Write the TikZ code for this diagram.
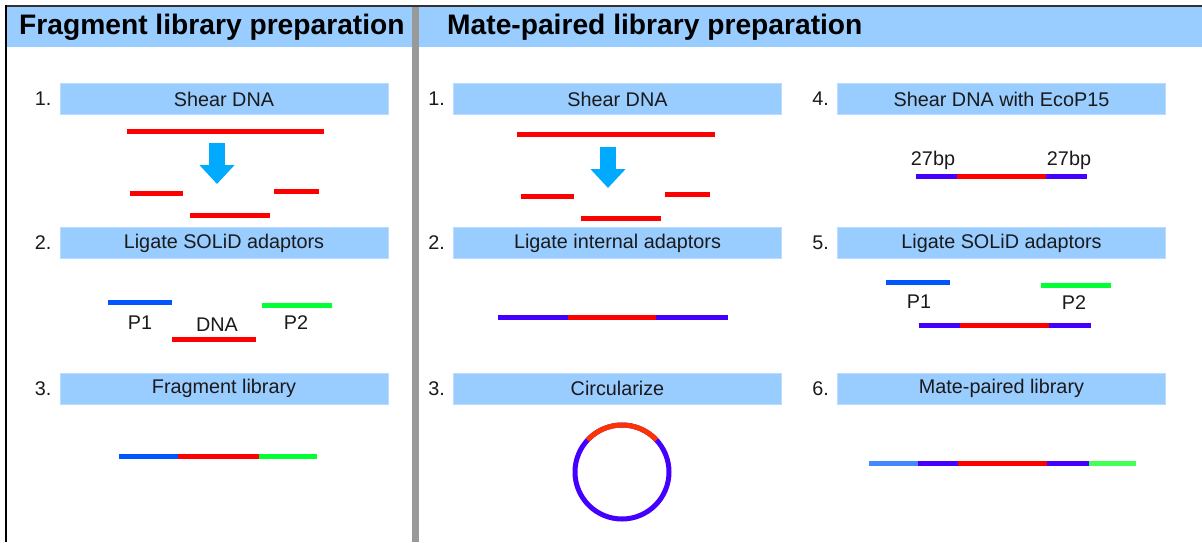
\documentclass[tikz,border=0pt]{standalone}
\usepackage{fontspec}
\setmainfont{Liberation Sans}
\usetikzlibrary{arrows.meta,positioning}

\definecolor{boxblue}{RGB}{153,204,255}
\definecolor{boxedge}{RGB}{185,220,255}
\definecolor{dnared}{RGB}{255,0,0}
\definecolor{ringred}{RGB}{255,51,0}
\definecolor{linkviolet}{RGB}{68,0,255}
\definecolor{ponablue}{RGB}{0,85,255}
\definecolor{ptwogreen}{RGB}{0,255,51}
\definecolor{fadeblue}{RGB}{68,136,255}
\definecolor{fadegreen}{RGB}{68,255,85}
\definecolor{cutblue}{RGB}{0,170,255}
\definecolor{divgrey}{RGB}{153,153,153}
\definecolor{inkblack}{RGB}{26,26,26}

\begin{document}
\begin{tikzpicture}[x=1pt,y=-1pt]
\tikzset{
  headtext/.style={anchor=west,inner sep=0pt,text=black,font=\fontsize{28.2}{32}\selectfont\bfseries},
  stepbox/.style={fill=boxblue,draw=boxedge,line width=0.8pt,minimum width=328pt,minimum height=31pt,inner sep=0pt,text=inkblack,font=\fontsize{19.8}{22}\selectfont},
  stepnum/.style={inner sep=0pt,text=inkblack,font=\fontsize{19.8}{22}\selectfont},
  strandlabel/.style={inner sep=0pt,text=inkblack,font=\fontsize{19.8}{22}\selectfont},
  strand/.style={line width=5pt,line cap=butt},
  cutarrow/.style={cutblue,line width=16pt,-{Triangle[length=19pt,width=34pt]}}
}
\useasboundingbox (0,0) rectangle (1202,542);
% frame and header band
\fill[boxblue] (7,7) rectangle (1202,47);
\draw[line width=2pt,black!80] (5,6) -- (1202,6);
\draw[line width=2pt,black] (6,5) -- (6,542);
\fill[divgrey] (412,7) rectangle (419,542);
\node[headtext] (fraghead) at (19,27) {Fragment library preparation};
\node[headtext] (matehead) at (447,27) {Mate-paired library preparation};

% fragment library steps
\node[stepbox] (frag1) at (224,99) {Shear DNA};
\node[stepbox] (frag2) at (224,243) {Ligate SOLiD adaptors};
\node[stepbox] (frag3) at (224,388.5) {Fragment library};
\node[stepnum,left=8pt of frag1] (fragnum1) {1.};
\node[stepnum,left=8pt of frag2] (fragnum2) {2.};
\node[stepnum,left=8pt of frag3] (fragnum3) {3.};

\draw[strand,dnared] (127,131) -- (324,131);
\coordinate (fragcuttop) at (217,143);
\coordinate (fragcuttip) at (217,184);
\draw[cutarrow] (fragcuttop) -- (fragcuttip);
\draw[strand,dnared] (130,193) -- (183,193);
\draw[strand,dnared] (274,191) -- (319,191);
\draw[strand,dnared] (190,215) -- (270,215);

\draw[strand,ponablue] (108,302) -- (172,302);
\draw[strand,ptwogreen] (262,305) -- (332,305);
\draw[strand,dnared] (172,339) -- (256,339);
\node[strandlabel] (fragpone) at (140,323) {P1};
\node[strandlabel] (fragdna) at (217,325) {DNA};
\node[strandlabel] (fragptwo) at (296,323) {P2};

\draw[strand,ponablue] (119,456) -- (178,456);
\draw[strand,dnared] (178,456) -- (259,456);
\draw[strand,ptwogreen] (259,456) -- (317,456);

% mate-paired library steps, first column
\node[stepbox] (mate1) at (617.5,99) {Shear DNA};
\node[stepbox] (mate2) at (617.5,243) {Ligate internal adaptors};
\node[stepbox] (mate3) at (617.5,388.5) {Circularize};
\node[stepnum,left=8pt of mate1] (matenum1) {1.};
\node[stepnum,left=8pt of mate2] (matenum2) {2.};
\node[stepnum,left=8pt of mate3] (matenum3) {3.};

\draw[strand,dnared] (517,134) -- (715,134);
\coordinate (matecuttop) at (608,147);
\coordinate (matecuttip) at (608,188);
\draw[cutarrow] (matecuttop) -- (matecuttip);
\draw[strand,dnared] (521,196) -- (574,196);
\draw[strand,dnared] (665,194) -- (710,194);
\draw[strand,dnared] (581,218) -- (661,218);

\draw[strand,linkviolet] (498,317) -- (568,317);
\draw[strand,dnared] (568,317) -- (656,317);
\draw[strand,linkviolet] (656,317) -- (728,317);

\coordinate (ring) at (622,472);
\draw[linkviolet,line width=5pt] (ring) circle[radius=47];
\draw[ringred,line width=5pt] (ring) ++(-137:47) arc[start angle=-137,end angle=-43,radius=47];

% mate-paired library steps, second column
\node[stepbox] (mate4) at (1001.5,99) {Shear DNA with EcoP15};
\node[stepbox] (mate5) at (1001.5,243) {Ligate SOLiD adaptors};
\node[stepbox] (mate6) at (1001.5,388.5) {Mate-paired library};
\node[stepnum,left=8pt of mate4] (matenum4) {4.};
\node[stepnum,left=8pt of mate5] (matenum5) {5.};
\node[stepnum,left=8pt of mate6] (matenum6) {6.};

\node[strandlabel] (tagleft) at (933,160) {27bp};
\node[strandlabel] (tagright) at (1069,160) {27bp};
\draw[strand,linkviolet] (916,176) -- (957,176);
\draw[strand,dnared] (957,176) -- (1046,176);
\draw[strand,linkviolet] (1046,176) -- (1087,176);

\draw[strand,ponablue] (886,282) -- (950,282);
\draw[strand,ptwogreen] (1041,285) -- (1111,285);
\node[strandlabel] (matepone) at (919,302) {P1};
\node[strandlabel] (mateptwo) at (1074,303) {P2};
\draw[strand,linkviolet] (919,325) -- (960,325);
\draw[strand,dnared] (960,325) -- (1049,325);
\draw[strand,linkviolet] (1049,325) -- (1091,325);

\draw[strand,fadeblue] (869,463) -- (918,463);
\draw[strand,linkviolet] (918,463) -- (958,463);
\draw[strand,dnared] (958,463) -- (1047,463);
\draw[strand,linkviolet] (1047,463) -- (1089,463);
\draw[strand,fadegreen] (1089,463) -- (1136,463);
\end{tikzpicture}
\end{document}
